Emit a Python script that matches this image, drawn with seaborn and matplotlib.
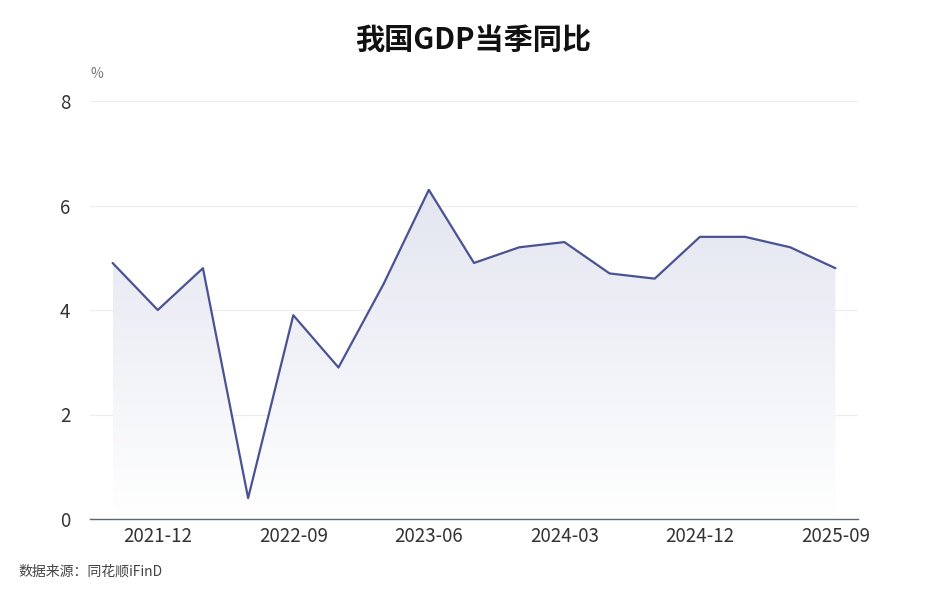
import numpy as np
import pandas as pd
import matplotlib
matplotlib.use("Agg")
import matplotlib.pyplot as plt
import seaborn as sns

# 数据
quarters = ["2021-09", "2021-12", "2022-03", "2022-06", "2022-09", "2022-12",
            "2023-03", "2023-06", "2023-09", "2023-12", "2024-03", "2024-06",
            "2024-09", "2024-12", "2025-03", "2025-06", "2025-09"]
gdp_yoy = [4.9, 4.0, 4.8, 0.4, 3.9, 2.9, 4.5, 6.3, 4.9, 5.2, 5.3, 4.7,
           4.6, 5.4, 5.4, 5.2, 4.8]
tick_labels = ["2021-12", "2022-09", "2023-06", "2024-03", "2024-12", "2025-09"]
y_ticks = [0, 2, 4, 6, 8]

sns.set_theme(style="white")
plt.rcParams['font.family'] = ['Noto Sans CJK SC', 'DejaVu Sans']

df = pd.DataFrame({"idx": np.arange(len(quarters)), "quarter": quarters, "value": gdp_yoy})

fig = plt.figure(figsize=(9.47, 6.0), dpi=100)
ax = fig.add_axes([90 / 947, 81 / 600, 768 / 947, 418 / 600])

line_color = "#4b5292"

# 渐变填充
poly = ax.fill_between(df["idx"], df["value"], 0, color="none", lw=0)
top = max(gdp_yoy)
grad = np.linspace(0, 1, 256).reshape(-1, 1)
cmap = matplotlib.colors.LinearSegmentedColormap.from_list(
    "g", ["#ffffff", "#e3e5f0"])
img = ax.imshow(grad, cmap=cmap, aspect="auto", origin="lower",
                extent=[df["idx"].min(), df["idx"].max(), 0, top], zorder=1)
img.set_clip_path(poly.get_paths()[0], transform=ax.transData)

sns.lineplot(data=df, x="idx", y="value", color=line_color, linewidth=1.6, ax=ax, zorder=3)

ax.set_xlim(-0.5, len(quarters) - 0.5)
ax.set_ylim(0, 8)
ax.set_yticks(y_ticks)
ax.set_yticklabels([str(v) for v in y_ticks])
tick_pos = [quarters.index(t) for t in tick_labels]
ax.set_xticks(tick_pos)
ax.set_xticklabels(tick_labels)

ax.yaxis.grid(True, color="#ececec", linewidth=0.8)
ax.set_axisbelow(True)
for s in ["left", "right", "top"]:
    ax.spines[s].set_visible(False)
ax.spines["bottom"].set_color("#5c6475")
ax.spines["bottom"].set_linewidth(1.0)
ax.spines["bottom"].set_zorder(4)
ax.tick_params(axis="both", length=0, labelsize=13.5, colors="#333333")
ax.tick_params(axis="x", pad=5)
ax.tick_params(axis="y", pad=14)
ax.set_xlabel("")
ax.set_ylabel("")

fig.text(0.5, 1 - 40 / 600, "我国GDP当季同比", ha="center", va="center",
         fontsize=21, fontweight="bold", color="#111111")
fig.text(97 / 947, 1 - 74 / 600, "%", ha="center", va="center",
         fontsize=10, color="#777777")
fig.text(18 / 947, 1 - 572 / 600, "数据来源：同花顺iFinD", ha="left", va="center",
         fontsize=10, color="#444444")

fig.savefig("out.png", dpi=100)
